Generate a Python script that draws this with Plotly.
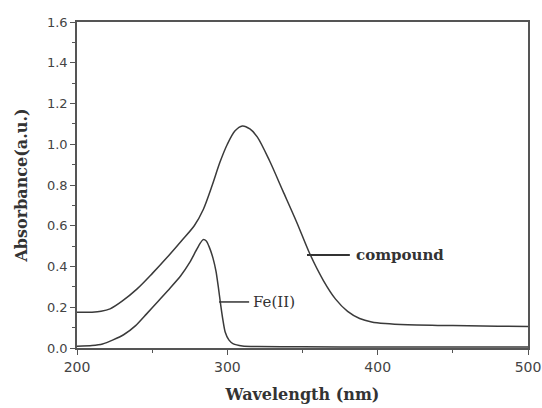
import plotly.graph_objects as go

# Compound spectrum
wl_compound = [200, 210, 216, 222, 230, 240, 250, 260, 270, 278, 284, 290, 295, 300, 305, 310,
               315, 320, 328, 337, 346, 355, 364, 372, 380, 388, 396, 405, 420, 440, 460, 480, 500]
abs_compound = [0.175, 0.176, 0.18, 0.192, 0.23, 0.29, 0.365, 0.445, 0.53, 0.60, 0.68, 0.80, 0.91, 1.00, 1.065, 1.09,
                1.075, 1.035, 0.92, 0.77, 0.62, 0.46, 0.33, 0.24, 0.18, 0.145, 0.128, 0.12, 0.114, 0.111, 0.109, 0.107, 0.106]

# Fe(II) spectrum
wl_fe = [200, 210, 217, 224, 231, 239, 246, 254, 262, 269, 275, 279, 282, 284, 286, 288, 290.5, 292.5, 294, 295.6,
         297, 298.5, 301, 304, 310, 320, 350, 400, 450, 500]
abs_fe = [0.008, 0.012, 0.02, 0.04, 0.065, 0.11, 0.165, 0.23, 0.295, 0.355, 0.42, 0.475, 0.515, 0.532, 0.525, 0.495,
          0.44, 0.375, 0.30, 0.21, 0.14, 0.08, 0.04, 0.02, 0.01, 0.007, 0.006, 0.005, 0.005, 0.005]

x_ticks = [200, 300, 400, 500]
y_ticks = [0.0, 0.2, 0.4, 0.6, 0.8, 1.0, 1.2, 1.4, 1.6]

line_color = "#3a3a3a"
axis_color = "#555555"

fig = go.Figure()
fig.add_trace(go.Scatter(x=wl_compound, y=abs_compound, mode="lines",
                         line=dict(color=line_color, width=1.5, shape="spline", smoothing=0.8),
                         showlegend=False, hoverinfo="skip"))
fig.add_trace(go.Scatter(x=wl_fe, y=abs_fe, mode="lines",
                         line=dict(color=line_color, width=1.5, shape="spline", smoothing=0.6),
                         showlegend=False, hoverinfo="skip"))

# leader lines for labels
fig.add_shape(type="line", x0=353, x1=381.5, y0=0.456, y1=0.456, xref="x", yref="y",
              line=dict(color="#333333", width=2))
fig.add_shape(type="line", x0=294.5, x1=314.5, y0=0.226, y1=0.226, xref="x", yref="y",
              line=dict(color="#333333", width=1.5))

fig.add_annotation(x=384, y=0.456, xref="x", yref="y", text="<b>compound</b>", showarrow=False,
                   xanchor="left", yanchor="middle",
                   font=dict(family="DejaVu Serif", size=15, color="#333333"))
fig.add_annotation(x=316, y=0.226, xref="x", yref="y", text="Fe(II)", showarrow=False,
                   xanchor="left", yanchor="middle",
                   font=dict(family="DejaVu Serif", size=15, color="#333333"))

fig.update_layout(
    width=542, height=408,
    margin=dict(l=77, r=14, t=22, b=60),
    paper_bgcolor="white", plot_bgcolor="white",
    font=dict(family="DejaVu Sans", color="#444444"),
)
fig.update_xaxes(
    range=[200, 500], tickvals=x_ticks, ticktext=[str(v) for v in x_ticks],
    automargin=False,
    showgrid=False, zeroline=False,
    showline=True, linecolor=axis_color, linewidth=1.5, mirror=True,
    ticks="outside", ticklen=5, tickcolor=axis_color, tickwidth=1.2,
    minor=dict(dtick=50, ticks="outside", ticklen=3, tickcolor=axis_color),
    tickfont=dict(family="DejaVu Sans", size=14, color="#444444"),
    title=dict(text="<b>Wavelength (nm)</b>",
               font=dict(family="DejaVu Serif", size=16, color="#333333")),
)
fig.update_yaxes(
    range=[0, 1.6], tickvals=y_ticks, ticktext=[f"{v:.1f}" for v in y_ticks],
    automargin=False,
    showgrid=False, zeroline=False,
    showline=True, linecolor=axis_color, linewidth=1.5, mirror=True,
    ticks="outside", ticklen=5, tickcolor=axis_color, tickwidth=1.2,
    minor=dict(dtick=0.1, ticks="outside", ticklen=3, tickcolor=axis_color),
    tickfont=dict(family="DejaVu Sans", size=13, color="#444444"),
    title=dict(text="<b>Absorbance(a.u.)</b>",
               font=dict(family="DejaVu Serif", size=16, color="#333333")),
)

fig.write_html("out.html")
